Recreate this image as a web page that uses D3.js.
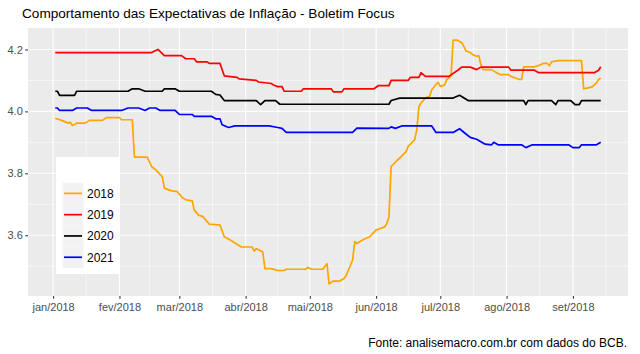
<!DOCTYPE html>
<html lang="pt">
<head>
<meta charset="UTF-8">
<title>Expectativas de Inflação - Boletim Focus</title>
<script src="https://d3js.org/d3.v7.min.js"></script>
<style>
  html, body { margin:0; padding:0; background:#fff; }
  svg { display:block; font-family:"Liberation Sans", Arial, sans-serif; }
</style>
</head>
<body>
<div id="chart"></div>
<script>
// series names / colors
const seriesNames=["2018","2019","2020","2021"];
const seriesColors=["#FFA500","#FF0000","#000000","#0000FF"];
const monthTicks=["2018-01-01","2018-02-01","2018-03-01","2018-04-01","2018-05-01","2018-06-01","2018-07-01","2018-08-01","2018-09-01"];
const monthLabels=["jan/2018","fev/2018","mar/2018","abr/2018","mai/2018","jun/2018","jul/2018","ago/2018","set/2018"];
const yTicks=[3.6,3.8,4.0,4.2];

// expectativas IPCA (mediana)
const s2018=[["2018-01-02",3.978],["2018-01-05",3.971],["2018-01-08",3.962],["2018-01-09",3.965],["2018-01-10",3.954],["2018-01-12",3.962],["2018-01-16",3.962],["2018-01-18",3.971],["2018-01-24",3.971],["2018-01-26",3.98],["2018-02-01",3.98],["2018-02-02",3.973],["2018-02-07",3.973],["2018-02-08",3.852],["2018-02-14",3.852],["2018-02-16",3.822],["2018-02-18",3.811],["2018-02-21",3.789],["2018-02-22",3.752],["2018-02-25",3.744],["2018-02-28",3.741],["2018-03-02",3.724],["2018-03-04",3.714],["2018-03-07",3.711],["2018-03-08",3.681],["2018-03-10",3.665],["2018-03-12",3.66],["2018-03-15",3.636],["2018-03-20",3.633],["2018-03-22",3.595],["2018-03-25",3.584],["2018-03-30",3.562],["2018-04-04",3.562],["2018-04-05",3.549],["2018-04-06",3.557],["2018-04-09",3.546],["2018-04-10",3.492],["2018-04-13",3.492],["2018-04-16",3.486],["2018-04-19",3.486],["2018-04-20",3.49],["2018-04-29",3.49],["2018-04-30",3.496],["2018-05-02",3.49],["2018-05-07",3.49],["2018-05-09",3.508],["2018-05-10",3.443],["2018-05-12",3.452],["2018-05-15",3.452],["2018-05-17",3.46],["2018-05-18",3.47],["2018-05-21",3.519],["2018-05-22",3.579],["2018-05-23",3.573],["2018-05-26",3.586],["2018-05-29",3.595],["2018-06-01",3.617],["2018-06-05",3.627],["2018-06-06",3.638],["2018-06-07",3.66],["2018-06-08",3.822],["2018-06-11",3.843],["2018-06-12",3.849],["2018-06-15",3.87],["2018-06-16",3.887],["2018-06-19",3.908],["2018-06-20",3.94],["2018-06-21",4.016],["2018-06-22",4.027],["2018-06-24",4.043],["2018-06-26",4.049],["2018-06-27",4.07],["2018-06-29",4.087],["2018-06-30",4.094],["2018-07-01",4.081],["2018-07-03",4.085],["2018-07-04",4.103],["2018-07-06",4.114],["2018-07-07",4.23],["2018-07-09",4.23],["2018-07-11",4.222],["2018-07-12",4.21],["2018-07-13",4.195],["2018-07-15",4.19],["2018-07-16",4.184],["2018-07-18",4.178],["2018-07-19",4.18],["2018-07-20",4.15],["2018-07-21",4.135],["2018-07-25",4.135],["2018-07-27",4.126],["2018-07-29",4.119],["2018-08-02",4.119],["2018-08-03",4.113],["2018-08-05",4.108],["2018-08-07",4.103],["2018-08-08",4.103],["2018-08-09",4.144],["2018-08-14",4.144],["2018-08-16",4.148],["2018-08-18",4.155],["2018-08-20",4.155],["2018-08-21",4.148],["2018-08-22",4.16],["2018-08-25",4.164],["2018-09-05",4.164],["2018-09-06",4.073],["2018-09-08",4.076],["2018-09-10",4.079],["2018-09-12",4.092],["2018-09-13",4.103],["2018-09-14",4.108]];
const s2019=[["2018-01-02",4.19],["2018-02-16",4.19],["2018-02-19",4.20],["2018-02-22",4.18],["2018-03-02",4.18],["2018-03-04",4.17],["2018-03-08",4.17],["2018-03-09",4.16],["2018-03-14",4.16],["2018-03-15",4.155],["2018-03-20",4.155],["2018-03-22",4.115],["2018-03-28",4.11],["2018-03-29",4.105],["2018-04-06",4.10],["2018-04-07",4.095],["2018-04-13",4.09],["2018-04-14",4.085],["2018-04-16",4.08],["2018-04-18",4.08],["2018-04-19",4.065],["2018-04-27",4.065],["2018-04-28",4.073],["2018-05-11",4.073],["2018-05-12",4.063],["2018-05-16",4.063],["2018-05-17",4.073],["2018-05-31",4.073],["2018-06-02",4.083],["2018-06-07",4.083],["2018-06-08",4.10],["2018-06-16",4.10],["2018-06-17",4.11],["2018-06-21",4.11],["2018-06-22",4.125],["2018-06-24",4.113],["2018-07-05",4.113],["2018-07-09",4.132],["2018-07-11",4.143],["2018-07-15",4.143],["2018-07-18",4.135],["2018-07-20",4.143],["2018-08-02",4.143],["2018-08-03",4.133],["2018-08-14",4.133],["2018-08-16",4.125],["2018-09-11",4.125],["2018-09-13",4.133],["2018-09-14",4.144]];
const s2020=[["2018-01-02",4.065],["2018-01-03",4.065],["2018-01-04",4.052],["2018-01-11",4.052],["2018-01-12",4.065],["2018-02-05",4.065],["2018-02-07",4.073],["2018-02-10",4.073],["2018-02-13",4.065],["2018-02-21",4.065],["2018-02-22",4.073],["2018-02-27",4.073],["2018-03-01",4.065],["2018-03-16",4.065],["2018-03-18",4.055],["2018-03-20",4.053],["2018-03-22",4.035],["2018-04-06",4.035],["2018-04-08",4.022],["2018-04-10",4.035],["2018-04-15",4.035],["2018-04-17",4.023],["2018-06-07",4.023],["2018-06-08",4.035],["2018-06-12",4.043],["2018-07-07",4.043],["2018-07-10",4.052],["2018-07-14",4.035],["2018-08-09",4.035],["2018-08-10",4.022],["2018-08-11",4.035],["2018-08-22",4.035],["2018-08-24",4.022],["2018-08-25",4.035],["2018-08-31",4.035],["2018-09-02",4.022],["2018-09-04",4.022],["2018-09-05",4.035],["2018-09-14",4.035]];
const s2021=[["2018-01-02",4.011],["2018-01-03",4.011],["2018-01-04",4.003],["2018-01-10",4.003],["2018-01-12",4.011],["2018-01-17",4.011],["2018-01-19",4.003],["2018-02-02",4.003],["2018-02-05",4.011],["2018-02-10",4.011],["2018-02-13",4.003],["2018-02-15",4.011],["2018-02-18",4.011],["2018-02-20",4.003],["2018-02-27",4.003],["2018-03-01",3.99],["2018-03-07",3.99],["2018-03-08",3.984],["2018-03-16",3.984],["2018-03-18",3.976],["2018-03-20",3.976],["2018-03-21",3.957],["2018-03-24",3.948],["2018-03-27",3.953],["2018-04-12",3.953],["2018-04-16",3.948],["2018-04-18",3.945],["2018-04-20",3.932],["2018-05-21",3.932],["2018-05-23",3.946],["2018-06-07",3.945],["2018-06-08",3.95],["2018-06-10",3.945],["2018-06-13",3.953],["2018-06-27",3.953],["2018-06-29",3.932],["2018-07-07",3.932],["2018-07-10",3.944],["2018-07-13",3.927],["2018-07-15",3.916],["2018-07-18",3.91],["2018-07-22",3.894],["2018-07-25",3.892],["2018-07-26",3.90],["2018-07-28",3.892],["2018-08-08",3.892],["2018-08-10",3.883],["2018-08-13",3.892],["2018-08-30",3.892],["2018-09-01",3.883],["2018-09-04",3.883],["2018-09-05",3.892],["2018-09-12",3.892],["2018-09-14",3.90]];

const W=640,H=354;
const panel={left:28,top:28,right:628,bottom:296};
const parse=d3.utcParse("%Y-%m-%d");
const allSeries=[s2018,s2019,s2020,s2021].map(s=>s.map(d=>({date:parse(d[0]),value:d[1]})));

// ggplot-like 5% expansion
const dx=d3.extent(allSeries.flat(),d=>d.date), px=(dx[1]-dx[0])*0.05;
const dy=d3.extent(allSeries.flat(),d=>d.value), py=(dy[1]-dy[0])*0.05;
const x=d3.scaleUtc().domain([new Date(+dx[0]-px),new Date(+dx[1]+px)]).range([panel.left,panel.right]);
const y=d3.scaleLinear().domain([dy[0]-py,dy[1]+py]).range([panel.bottom,panel.top]);

const svg=d3.select("#chart").append("svg").attr("width",W).attr("height",H);
svg.append("rect").attr("width",W).attr("height",H).attr("fill","#fff");

svg.append("rect").attr("x",panel.left).attr("y",panel.top)
  .attr("width",panel.right-panel.left).attr("height",panel.bottom-panel.top)
  .attr("fill","#EBEBEB");

// grid
const majX=monthTicks.map(parse);
const minX=majX.slice(1).map((d,i)=>new Date((+d + +majX[i])/2));
minX.push(new Date(+majX[majX.length-1]+(majX[majX.length-1]-majX[majX.length-2])/2));
const minY=[3.5,3.7,3.9,4.1];
const [d0,d1]=x.domain();
const grid=svg.append("g").attr("stroke","#fff");
grid.selectAll(".mnx").data(minX.filter(d=>d>=d0&&d<=d1)).join("line")
  .attr("x1",d=>x(d)).attr("x2",d=>x(d)).attr("y1",panel.top).attr("y2",panel.bottom).attr("stroke-width",0.55);
grid.selectAll(".mny").data(minY).join("line")
  .attr("y1",d=>y(d)).attr("y2",d=>y(d)).attr("x1",panel.left).attr("x2",panel.right).attr("stroke-width",0.55);
grid.selectAll(".mjx").data(majX).join("line")
  .attr("x1",d=>x(d)).attr("x2",d=>x(d)).attr("y1",panel.top).attr("y2",panel.bottom).attr("stroke-width",1.1);
grid.selectAll(".mjy").data(yTicks).join("line")
  .attr("y1",d=>y(d)).attr("y2",d=>y(d)).attr("x1",panel.left).attr("x2",panel.right).attr("stroke-width",1.1);

// lines
const line=d3.line().x(d=>x(d.date)).y(d=>y(d.value));
svg.append("g").selectAll("path").data(allSeries).join("path")
  .attr("d",line).attr("fill","none")
  .attr("stroke",(d,i)=>seriesColors[i]).attr("stroke-width",1.7)
  .attr("stroke-linejoin","round");

// axes
const xAxis=svg.append("g").attr("transform","translate(0,"+panel.bottom+")")
  .call(d3.axisBottom(x).tickValues(majX).tickFormat((d,i)=>monthLabels[i]).tickSizeInner(2.75).tickSizeOuter(0).tickPadding(4));
const yAxis=svg.append("g").attr("transform","translate("+panel.left+",0)")
  .call(d3.axisLeft(y).tickValues(yTicks).tickFormat(d3.format(".1f")).tickSizeInner(2.75).tickSizeOuter(0).tickPadding(2.5));
[xAxis,yAxis].forEach(a=>{
  a.select(".domain").remove();
  a.selectAll(".tick line").attr("stroke","#333333").attr("stroke-width",1.07);
  a.selectAll(".tick text").attr("fill","#4D4D4D").attr("font-size",11)
    .attr("font-family","'Liberation Sans', Arial, sans-serif");
});

// legend
const lg=svg.append("g");
lg.append("rect").attr("x",56).attr("y",157).attr("width",63).attr("height",117).attr("fill","#fff");
const key=lg.selectAll(".key").data(seriesNames).join("g")
  .attr("transform",(d,i)=>"translate(62.5,"+(182.7+i*21.3)+")");
key.append("rect").attr("width",21).attr("height",21.3).attr("fill","#F2F2F2");
key.append("line").attr("x1",1.5).attr("x2",19.5).attr("y1",10.65).attr("y2",10.65)
  .attr("stroke",(d,i)=>seriesColors[i]).attr("stroke-width",1.7);
key.append("text").attr("x",24.5).attr("y",10.65).attr("dy","0.36em")
  .attr("font-size",12).attr("fill","#000").text(d=>d);

// title / caption
svg.append("text").attr("x",22).attr("y",18).attr("font-size",13.6).attr("fill","#000")
  .text("Comportamento das Expectativas de Inflação - Boletim Focus");
svg.append("text").attr("x",627).attr("y",347).attr("text-anchor","end")
  .attr("font-size",12).attr("fill","#000")
  .text("Fonte: analisemacro.com.br com dados do BCB.");
</script>
</body>
</html>
